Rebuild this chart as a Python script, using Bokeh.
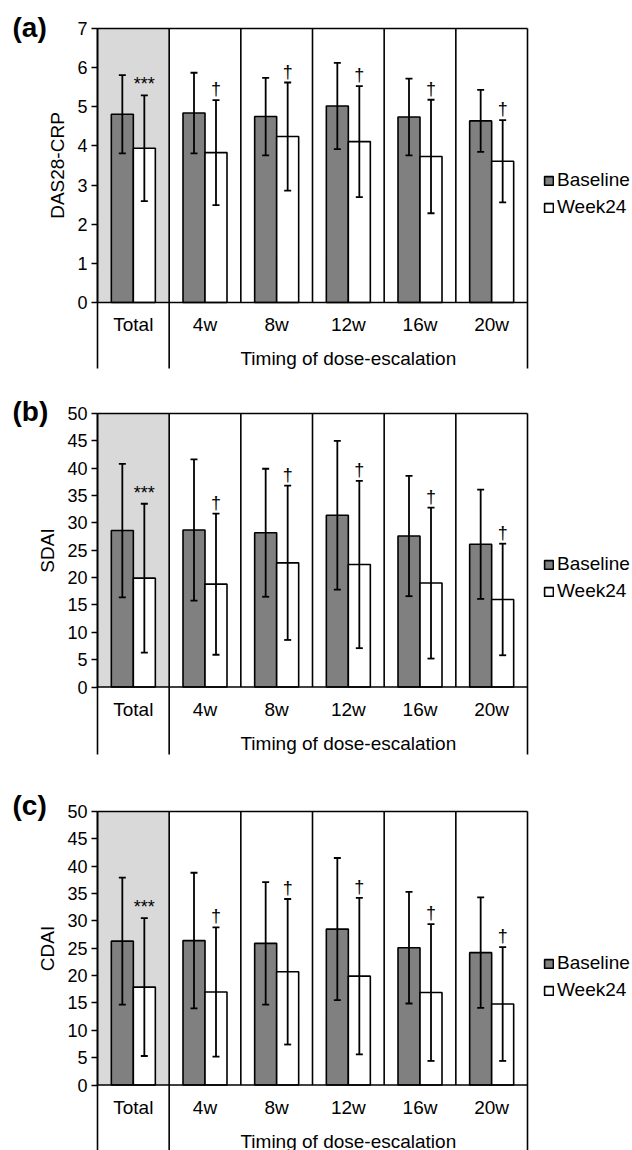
from bokeh.plotting import figure
from bokeh.models import (ColumnDataSource, FixedTicker, Legend, LegendItem, LinearAxis,
                          Whisker, TeeHead, Range1d)
from bokeh.layouts import column
from bokeh.embed import file_html
from bokeh.resources import INLINE
from bokeh.core.properties import value

# ---------------- data ----------------
categories = ["Total", "4w", "8w", "12w", "16w", "20w"]
group_label = "Timing of dose-escalation"
series_names = ["Baseline", "Week24"]
markers = ["***", "†", "†", "†", "†", "†"]

das_base = [4.81, 4.84, 4.75, 5.02, 4.74, 4.64]
das_base_sd = [1.00, 1.03, 0.99, 1.10, 0.98, 0.79]
das_w24 = [3.94, 3.83, 4.24, 4.11, 3.73, 3.61]
das_w24_sd = [1.35, 1.34, 1.38, 1.42, 1.45, 1.05]

sdai_base = [28.6, 28.7, 28.2, 31.4, 27.6, 26.1]
sdai_base_sd = [12.2, 12.9, 11.7, 13.6, 11.0, 10.0]
sdai_w24 = [19.9, 18.8, 22.7, 22.4, 19.0, 16.0]
sdai_w24_sd = [13.6, 12.9, 14.1, 15.3, 13.8, 10.2]

cdai_base = [26.3, 26.4, 25.9, 28.5, 25.1, 24.2]
cdai_base_sd = [11.6, 12.4, 11.2, 13.0, 10.2, 10.1]
cdai_w24 = [17.9, 17.0, 20.7, 19.9, 16.9, 14.8]
cdai_w24_sd = [12.6, 11.8, 13.3, 14.3, 12.5, 10.4]

das_ticks = [0, 1, 2, 3, 4, 5, 6, 7]
score_ticks = [0, 5, 10, 15, 20, 25, 30, 35, 40, 45, 50]

# ---------------- layout constants (pixels) ----------------
FONT = "Liberation Sans"
W = 632
X0_PX, X6_PX = 97, 527          # page x of category-axis start / end
BAR_W = 0.307
OFF = 0.1535
TXT = "19px"


def make_panel(tag, ylabel, ticks, base, base_sd, w24, w24_sd,
               fig_top, fig_bot, top_px, zero_px, line_bot_px, legend_bottom, tag_dy):
    n = len(categories)
    ymax = ticks[-1]
    ky = (zero_px - top_px) / ymax
    kx = (X6_PX - X0_PX) / n
    height = fig_bot - fig_top
    y_end = ymax + (top_px - fig_top) / ky
    y_start = -(fig_bot - zero_px) / ky
    y_line_bot = -(line_bot_px - zero_px) / ky
    x_start = -X0_PX / kx
    x_end = n + (W - X6_PX) / kx

    p = figure(width=W, height=height, output_backend="svg", toolbar_location=None,
               x_range=Range1d(x_start, x_end), y_range=Range1d(y_start, y_end),
               x_axis_location=None, y_axis_location=None,
               min_border=0, min_border_left=0, min_border_right=0,
               min_border_top=0, min_border_bottom=0)
    p.outline_line_color = None
    p.grid.visible = False
    p.background_fill_color = "white"
    p.border_fill_color = "white"

    xc = [i + 0.5 for i in range(n)]

    # shaded "Total" area
    p.quad(left=[0], right=[1], bottom=[0], top=[ymax], fill_color="#d9d9d9", line_color=None)

    src_b = ColumnDataSource(dict(x=[c - OFF for c in xc], top=base,
                                  upper=[m + s for m, s in zip(base, base_sd)],
                                  lower=[m - s for m, s in zip(base, base_sd)]))
    src_w = ColumnDataSource(dict(x=[c + OFF for c in xc], top=w24,
                                  upper=[m + s for m, s in zip(w24, w24_sd)],
                                  lower=[m - s for m, s in zip(w24, w24_sd)],
                                  mk=markers))
    rb = p.vbar(x="x", top="top", bottom=0, width=BAR_W, source=src_b,
                fill_color="#808080", line_color="black", line_width=1.6)
    rw = p.vbar(x="x", top="top", bottom=0, width=BAR_W, source=src_w,
                fill_color="white", line_color="black", line_width=1.6)

    for src in (src_b, src_w):
        w = Whisker(source=src, base="x", upper="upper", lower="lower",
                    line_color="black", line_width=1.8, level="annotation",
                    upper_head=TeeHead(size=7, line_width=1.8, line_color="black"),
                    lower_head=TeeHead(size=7, line_width=1.8, line_color="black"))
        p.add_layout(w)

    # significance markers
    p.text(x="x", y="upper", text="mk", source=src_w, text_align="center",
           text_baseline="bottom", y_offset=-1, text_font=value(FONT),
           text_font_size="18px", text_color="black")

    # frame lines
    p.segment(x0=[0], y0=[ymax], x1=[n], y1=[ymax], line_color="black", line_width=1.6)
    p.segment(x0=[0], y0=[0], x1=[n], y1=[0], line_color="black", line_width=1.6)
    p.segment(x0=[0, 1, n], y0=[y_line_bot] * 3, x1=[0, 1, n], y1=[ymax] * 3,
              line_color="black", line_width=1.6)
    inner = list(range(2, n))
    p.segment(x0=inner, y0=[0] * len(inner), x1=inner, y1=[ymax] * len(inner),
              line_color="black", line_width=1.6)

    # category labels
    p.text(x=xc, y=[0] * n, text=categories, text_align="center", text_baseline="middle",
           y_offset=22, text_font=value(FONT), text_font_size=TXT, text_color="black")
    p.text(x=[(1 + n) / 2], y=[0], text=[group_label], text_align="center",
           text_baseline="middle", y_offset=56, text_font=value(FONT),
           text_font_size=TXT, text_color="black")

    # panel tag
    p.text(x=[0], y=[ymax], text=[tag], text_align="left", text_baseline="middle",
           x_offset=12 - X0_PX, y_offset=tag_dy, text_font=value(FONT),
           text_font_style="bold", text_font_size="28px", text_color="black")

    # y axis at x = 0
    ax = LinearAxis(fixed_location=0, bounds=(0, ymax), ticker=FixedTicker(ticks=ticks))
    ax.minor_tick_line_color = None
    ax.major_tick_in = 0
    ax.major_tick_out = 6
    ax.major_tick_line_width = 1.6
    ax.axis_line_width = 1.6
    ax.axis_line_color = "black"
    ax.major_tick_line_color = "black"
    ax.major_label_text_font = FONT
    ax.major_label_text_font_size = "18px"
    ax.major_label_text_color = "black"
    ax.major_label_standoff = 4
    ax.axis_label = ylabel
    ax.axis_label_text_font = FONT
    ax.axis_label_text_font_size = TXT
    ax.axis_label_text_font_style = "normal"
    ax.axis_label_text_color = "black"
    ax.axis_label_standoff = 6
    p.add_layout(ax, "left")

    legend = Legend(items=[LegendItem(label=series_names[0], renderers=[rb]),
                           LegendItem(label=series_names[1], renderers=[rw])],
                    location=(543, legend_bottom), padding=0, margin=0,
                    border_line_color=None, background_fill_alpha=0,
                    glyph_width=11, glyph_height=11, label_standoff=3, spacing=5,
                    label_text_font=FONT, label_text_font_size=TXT,
                    label_text_color="black", label_height=22)
    p.add_layout(legend)
    return p


fa = make_panel("(a)", "DAS28-CRP", das_ticks, das_base, das_base_sd, das_w24, das_w24_sd,
                fig_top=0, fig_bot=393, top_px=28, zero_px=302, line_bot_px=368,
                legend_bottom=393 - 218, tag_dy=-1)
fb = make_panel("(b)", "SDAI", score_ticks, sdai_base, sdai_base_sd, sdai_w24, sdai_w24_sd,
                fig_top=393, fig_bot=785, top_px=413, zero_px=686.5, line_bot_px=754,
                legend_bottom=785 - 602, tag_dy=-2)
fc = make_panel("(c)", "CDAI", score_ticks, cdai_base, cdai_base_sd, cdai_w24, cdai_w24_sd,
                fig_top=785, fig_bot=1150, top_px=811, zero_px=1084.5, line_bot_px=1150,
                legend_bottom=1150 - 1001, tag_dy=-6)

layout = column(fa, fb, fc, spacing=0)
open("out.html", "w").write(file_html(layout, INLINE))
